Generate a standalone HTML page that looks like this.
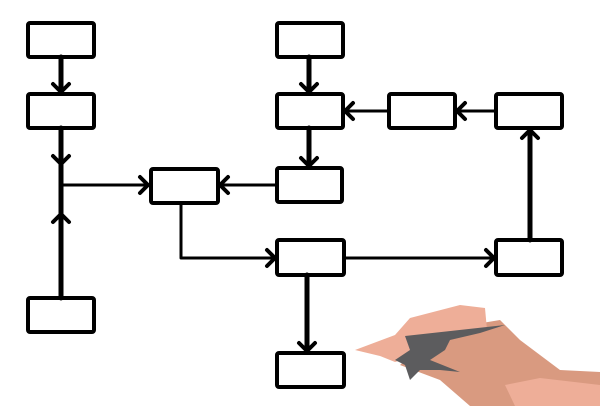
<!DOCTYPE html>
<html><head><style>html,body{margin:0;padding:0;background:#fff;}svg{display:block}</style></head>
<body>
<svg width="600" height="406" viewBox="0 0 600 406" xmlns="http://www.w3.org/2000/svg">
<defs>
<marker id="ar" viewBox="0 0 12 12" refX="11" refY="6" markerWidth="4" markerHeight="4" orient="auto" markerUnits="userSpaceOnUse">
</marker>
</defs>
<g fill="#fff" stroke="#000" stroke-width="4">
<rect x="28" y="23" width="66" height="34" rx="2"/>
<rect x="28" y="94" width="66" height="34" rx="2"/>
<rect x="151" y="169" width="67" height="34" rx="2"/>
<rect x="28" y="298" width="66" height="34" rx="2"/>
<rect x="277" y="23" width="66" height="34" rx="2"/>
<rect x="277" y="94" width="66" height="34" rx="2"/>
<rect x="277" y="168" width="65" height="34" rx="2"/>
<rect x="389" y="94" width="66" height="34" rx="2"/>
<rect x="496" y="94" width="66" height="34" rx="2"/>
<rect x="277" y="240" width="67" height="35" rx="2"/>
<rect x="496" y="240" width="66" height="35" rx="2"/>
<rect x="277" y="353" width="67" height="34" rx="2"/>
</g>
<g fill="none" stroke="#000" stroke-linecap="round" stroke-linejoin="round">
<g stroke-width="5">
<line x1="61" y1="57" x2="61" y2="92"/>
<line x1="61" y1="128" x2="61" y2="298"/>
<line x1="309" y1="57" x2="309" y2="92"/>
<line x1="309" y1="128" x2="309" y2="166"/>
<line x1="530" y1="240" x2="530" y2="130"/>
<line x1="307" y1="275" x2="307" y2="351"/>
</g>
<g stroke-width="3">
<line x1="61" y1="185" x2="148" y2="185"/>
<line x1="277" y1="185" x2="220" y2="185"/>
<polyline points="181,203 181,258 275,258"/>
<line x1="344" y1="258" x2="494" y2="258"/>
<line x1="389" y1="111" x2="345" y2="111"/>
<line x1="496" y1="111" x2="457" y2="111"/>
</g>
<g stroke-width="4">
<polyline points="53,84 61,92 69,84"/>
<polyline points="53,156 61,164 69,156"/>
<polyline points="53,222 61,214 69,222"/>
<polyline points="301,84 309,92 317,84"/>
<polyline points="301,158 309,166 317,158"/>
<polyline points="299,343 307,351 315,343"/>
<polyline points="522,138 530,130 538,138"/>
<polyline points="140,177 148,185 140,193"/>
<polyline points="228,177 220,185 228,193"/>
<polyline points="267,250 275,258 267,266"/>
<polyline points="486,250 494,258 486,266"/>
<polyline points="353,103 345,111 353,119"/>
<polyline points="465,103 457,111 465,119"/>
</g>
</g>
<!-- hand -->
<polygon fill="#d99a80" points="440,330 500,320 520,340 560,370 600,372 600,406 470,406 440,380 400,365"/>
<polygon fill="#eeae98" points="355,350 395,335 410,318 460,305 485,308 487,330 440,335 420,355 395,362 380,356"/>
<polygon fill="#eeae98" points="505,385 540,378 600,385 600,406 515,406"/>
<polygon fill="#5c5c5e" points="405,336 505,325 480,333 450,340 445,350 430,360 450,368 460,372 440,370 420,370 410,380 405,365 395,360 410,350"/>
</svg>
</body></html>
